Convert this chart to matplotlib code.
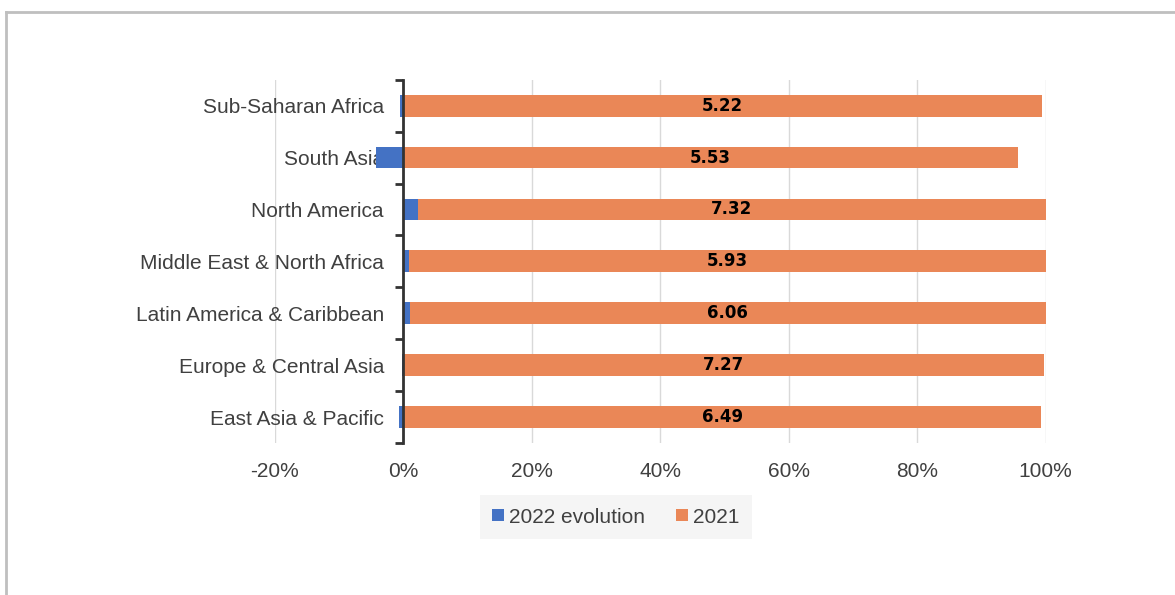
import matplotlib.pyplot as plt
from matplotlib.lines import Line2D
from matplotlib.ticker import FixedLocator, PercentFormatter

# regions, bottom to top as drawn
regions = ['East Asia & Pacific', 'Europe & Central Asia', 'Latin America & Caribbean',
           'Middle East & North Africa', 'North America', 'South Asia', 'Sub-Saharan Africa']
score_2021 = [6.49, 7.27, 6.06, 5.93, 7.32, 5.53, 5.22]
evolution_2022 = [-0.05, -0.02, 0.06, 0.05, 0.17, -0.25, -0.03]

blue = '#4472C4'
orange = '#EA8757'
text_col = '#404040'

plt.rcParams['font.family'] = ['Liberation Sans', 'DejaVu Sans']
plt.rcParams['axes.unicode_minus'] = False

# 100% stacked: each value as share of the sum of absolute values
totals = [abs(e) + s for e, s in zip(evolution_2022, score_2021)]
evo_pct = [100 * e / t for e, t in zip(evolution_2022, totals)]
s21_pct = [100 * s / t for s, t in zip(score_2021, totals)]
left_21 = [max(e, 0) for e in evo_pct]

fig = plt.figure(figsize=(11.75, 5.95), dpi=100)
ax = fig.add_axes([0.234, 0.2555, 0.656, 0.6105])

y = list(range(len(regions)))
ax.barh(y, evo_pct, height=0.42, color=blue, label='2022 evolution', zorder=3)
ax.barh(y, s21_pct, left=left_21, height=0.42, color=orange, label='2021', zorder=3)

for i in y:
    ax.text(left_21[i] + s21_pct[i] / 2, i, f'{score_2021[i]:.2f}', ha='center', va='center',
            fontsize=12, fontweight='bold', color='black', family='DejaVu Sans', zorder=4)

ax.set_xlim(-20, 100)
ax.set_ylim(-0.5, len(regions) - 0.5)
ax.xaxis.set_major_locator(FixedLocator([-20, 0, 20, 40, 60, 80, 100]))
ax.xaxis.set_major_formatter(PercentFormatter(decimals=0))
ax.grid(axis='x', color='#D9D9D9', linewidth=1, zorder=0)

for s in ['top', 'right', 'bottom']:
    ax.spines[s].set_visible(False)
ax.spines['left'].set_position(('data', 0))
ax.spines['left'].set_color('#333333')
ax.spines['left'].set_linewidth(2)
ax.spines['left'].set_zorder(5)

ax.set_yticks(y)
ax.set_yticklabels(regions)
ax.yaxis.set_minor_locator(FixedLocator([v - 0.5 for v in range(len(regions) + 1)]))
ax.tick_params(axis='y', which='major', length=0, pad=14, labelsize=15, labelcolor=text_col)
ax.tick_params(axis='y', which='minor', length=6, width=2, color='#333333')
ax.tick_params(axis='x', length=0, pad=14, labelsize=15, labelcolor=text_col)
for lbl in ax.get_yticklabels():
    lbl.set_zorder(6)

leg = ax.legend(loc='center', bbox_to_anchor=(0.524, 0.131), bbox_transform=fig.transFigure,
                ncol=2, frameon=True, fontsize=15, handlelength=0.55, handleheight=0.55,
                handletextpad=0.25, columnspacing=1.5, borderpad=0.3, borderaxespad=0)
leg.get_frame().set_facecolor('#F3F3F3')
leg.get_frame().set_edgecolor('none')
leg.get_frame().set_boxstyle('square')
for t in leg.get_texts():
    t.set_color(text_col)

# outer frame lines
fig.add_artist(Line2D([0.005, 1.0], [0.979, 0.979], color='#BFBFBF', linewidth=2, transform=fig.transFigure))
fig.add_artist(Line2D([0.005, 0.005], [0.0, 0.979], color='#BFBFBF', linewidth=2, transform=fig.transFigure))

fig.savefig('out.png', dpi=100)
